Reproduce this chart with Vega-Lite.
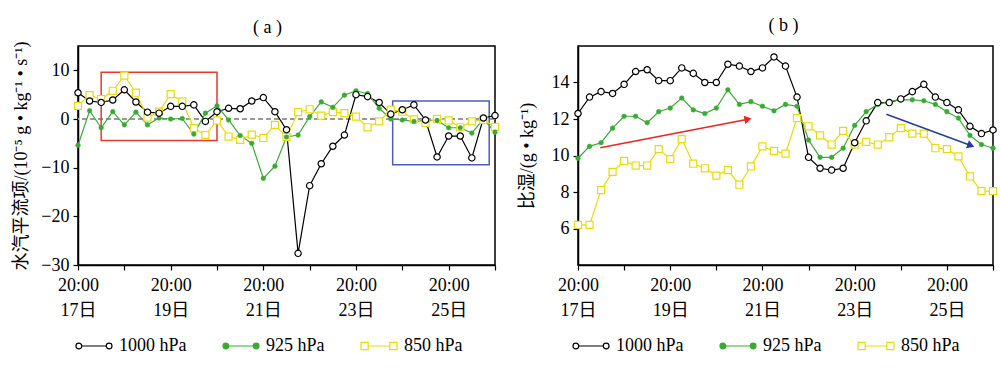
{
  "$schema": "https://vega.github.io/schema/vega-lite/v6.json",
  "padding": {"left": 12, "top": 16, "right": 5, "bottom": 5},
  "background": "white",
  "datasets": {
    "a": [
      {"t":0,"1000 hPa":5.4,"925 hPa":-5.4,"850 hPa":2.7},
      {"t":6,"1000 hPa":3.7,"925 hPa":1.7,"850 hPa":4.9},
      {"t":12,"1000 hPa":3.4,"925 hPa":-1.8,"850 hPa":4.1},
      {"t":18,"1000 hPa":3.9,"925 hPa":1.5,"850 hPa":5.8},
      {"t":24,"1000 hPa":6.0,"925 hPa":-1.2,"850 hPa":8.9},
      {"t":30,"1000 hPa":3.5,"925 hPa":1.4,"850 hPa":5.4},
      {"t":36,"1000 hPa":1.4,"925 hPa":-1.2,"850 hPa":0.3},
      {"t":42,"1000 hPa":1.2,"925 hPa":0.2,"850 hPa":1.5},
      {"t":48,"1000 hPa":2.6,"925 hPa":0.0,"850 hPa":5.1},
      {"t":54,"1000 hPa":2.6,"925 hPa":0.1,"850 hPa":3.6},
      {"t":60,"1000 hPa":2.9,"925 hPa":-3.1,"850 hPa":-1.9},
      {"t":66,"1000 hPa":-0.5,"925 hPa":1.2,"850 hPa":-3.3},
      {"t":72,"1000 hPa":1.5,"925 hPa":2.7,"850 hPa":-0.3},
      {"t":78,"1000 hPa":2.2,"925 hPa":-0.2,"850 hPa":-3.6},
      {"t":84,"1000 hPa":2.1,"925 hPa":-3.4,"850 hPa":-4.3},
      {"t":90,"1000 hPa":3.7,"925 hPa":-5.0,"850 hPa":-3.2},
      {"t":96,"1000 hPa":4.4,"925 hPa":-12.2,"850 hPa":-3.9},
      {"t":102,"1000 hPa":1.5,"925 hPa":-9.7,"850 hPa":-1.2},
      {"t":108,"1000 hPa":-2.2,"925 hPa":-3.7,"850 hPa":-3.7},
      {"t":114,"1000 hPa":-27.6,"925 hPa":-3.3,"850 hPa":1.4},
      {"t":120,"1000 hPa":-13.7,"925 hPa":0.5,"850 hPa":2.0},
      {"t":126,"1000 hPa":-9.2,"925 hPa":3.5,"850 hPa":0.7},
      {"t":132,"1000 hPa":-5.6,"925 hPa":2.4,"850 hPa":1.4},
      {"t":138,"1000 hPa":-3.3,"925 hPa":4.9,"850 hPa":1.2},
      {"t":144,"1000 hPa":5.0,"925 hPa":5.8,"850 hPa":0.5},
      {"t":150,"1000 hPa":4.6,"925 hPa":5.2,"850 hPa":-1.7},
      {"t":156,"1000 hPa":3.4,"925 hPa":2.2,"850 hPa":-0.5},
      {"t":162,"1000 hPa":1.0,"925 hPa":0.0,"850 hPa":1.9},
      {"t":168,"1000 hPa":1.9,"925 hPa":-0.2,"850 hPa":1.5},
      {"t":174,"1000 hPa":2.9,"925 hPa":-0.5,"850 hPa":-0.1},
      {"t":180,"1000 hPa":-0.2,"925 hPa":-0.3,"850 hPa":-0.8},
      {"t":186,"1000 hPa":-7.8,"925 hPa":-0.3,"850 hPa":0.0},
      {"t":192,"1000 hPa":-3.5,"925 hPa":-1.8,"850 hPa":-0.3},
      {"t":198,"1000 hPa":-3.5,"925 hPa":-1.8,"850 hPa":-1.7},
      {"t":204,"1000 hPa":-8.0,"925 hPa":-2.9,"850 hPa":-0.5},
      {"t":210,"1000 hPa":0.2,"925 hPa":0.0,"850 hPa":-0.2},
      {"t":216,"1000 hPa":0.7,"925 hPa":-2.7,"850 hPa":-1.6}
    ],
    "b": [
      {"t":0,"1000 hPa":12.3,"925 hPa":9.85,"850 hPa":6.2},
      {"t":6,"1000 hPa":13.2,"925 hPa":10.5,"850 hPa":6.2},
      {"t":12,"1000 hPa":13.5,"925 hPa":10.7,"850 hPa":8.1},
      {"t":18,"1000 hPa":13.4,"925 hPa":11.5,"850 hPa":9.1},
      {"t":24,"1000 hPa":13.9,"925 hPa":12.15,"850 hPa":9.7},
      {"t":30,"1000 hPa":14.6,"925 hPa":12.15,"850 hPa":9.45},
      {"t":36,"1000 hPa":14.7,"925 hPa":11.8,"850 hPa":9.45},
      {"t":42,"1000 hPa":14.1,"925 hPa":12.4,"850 hPa":10.35},
      {"t":48,"1000 hPa":14.1,"925 hPa":12.6,"850 hPa":9.8},
      {"t":54,"1000 hPa":14.8,"925 hPa":13.15,"850 hPa":10.9},
      {"t":60,"1000 hPa":14.5,"925 hPa":12.5,"850 hPa":9.55},
      {"t":66,"1000 hPa":14.0,"925 hPa":12.3,"850 hPa":9.3},
      {"t":72,"1000 hPa":14.0,"925 hPa":12.6,"850 hPa":8.9},
      {"t":78,"1000 hPa":15.0,"925 hPa":13.6,"850 hPa":9.2},
      {"t":84,"1000 hPa":14.9,"925 hPa":12.8,"850 hPa":8.4},
      {"t":90,"1000 hPa":14.6,"925 hPa":12.95,"850 hPa":9.4},
      {"t":96,"1000 hPa":14.8,"925 hPa":12.7,"850 hPa":10.5},
      {"t":102,"1000 hPa":15.4,"925 hPa":12.45,"850 hPa":10.25},
      {"t":108,"1000 hPa":14.9,"925 hPa":12.8,"850 hPa":10.1},
      {"t":114,"1000 hPa":13.2,"925 hPa":12.7,"850 hPa":12.05},
      {"t":120,"1000 hPa":9.9,"925 hPa":10.85,"850 hPa":11.6},
      {"t":126,"1000 hPa":9.3,"925 hPa":9.9,"850 hPa":11.1},
      {"t":132,"1000 hPa":9.2,"925 hPa":9.9,"850 hPa":10.6},
      {"t":138,"1000 hPa":9.3,"925 hPa":10.4,"850 hPa":11.35},
      {"t":144,"1000 hPa":10.7,"925 hPa":11.65,"850 hPa":10.6},
      {"t":150,"1000 hPa":11.9,"925 hPa":12.4,"850 hPa":10.75},
      {"t":156,"1000 hPa":12.9,"925 hPa":12.8,"850 hPa":10.6},
      {"t":162,"1000 hPa":12.9,"925 hPa":12.95,"850 hPa":11.0},
      {"t":168,"1000 hPa":13.1,"925 hPa":13.05,"850 hPa":11.5},
      {"t":174,"1000 hPa":13.5,"925 hPa":13.05,"850 hPa":11.2},
      {"t":180,"1000 hPa":13.9,"925 hPa":13.0,"850 hPa":11.2},
      {"t":186,"1000 hPa":13.2,"925 hPa":12.8,"850 hPa":10.4},
      {"t":192,"1000 hPa":12.9,"925 hPa":12.4,"850 hPa":10.35},
      {"t":198,"1000 hPa":12.5,"925 hPa":12.05,"850 hPa":9.95},
      {"t":204,"1000 hPa":11.6,"925 hPa":11.1,"850 hPa":8.85},
      {"t":210,"1000 hPa":11.2,"925 hPa":10.6,"850 hPa":8.05},
      {"t":216,"1000 hPa":11.4,"925 hPa":10.4,"850 hPa":8.05}
    ]
  },
  "config": {
    "font": "Liberation Serif",
    "view": {"stroke": "black", "strokeWidth": 1.5},
    "axis": {
      "grid": false,
      "domainColor": "black",
      "domainWidth": 1.5,
      "tickColor": "black",
      "tickWidth": 1.2,
      "tickSize": 5,
      "labelColor": "black",
      "labelFont": "Liberation Serif, Noto Sans CJK SC",
      "labelFontSize": 18,
      "titleFont": "Liberation Serif, Noto Sans CJK SC",
      "titleFontSize": 18,
      "titleFontWeight": "normal",
      "titleColor": "black",
      "labelOverlap": false,
      "labelFlush": false
    },
    "legend": {
      "labelFont": "Liberation Serif",
      "labelFontSize": 18,
      "labelColor": "black",
      "padding": 0
    },
    "title": {"font": "Liberation Serif", "fontSize": 18, "fontWeight": "normal", "color": "black"}
  },
  "spacing": 15,
  "resolve": {
    "scale": {"x": "independent", "y": "independent", "color": "independent"},
    "legend": {"color": "independent"}
  },
  "hconcat": [
    {
      "width": 417,
      "height": 219,
      "title": {"text": "( a )", "offset": 4, "dx": -19},
      "layer": [
        {
          "data": {"values": [{"v": 0}]},
          "mark": {"type": "rule", "color": "#999999", "strokeDash": [5, 3], "strokeWidth": 2},
          "encoding": {"y": {"field": "v", "type": "quantitative", "scale": {"domain": [-30, 15], "nice": false}}}
        },
        {
          "data": {"values": [{"t": 12, "t2": 72, "v": -4.4, "v2": 9.6}]},
          "mark": {"type": "rect", "fill": null, "fillOpacity": 0, "stroke": "#e8392a", "strokeWidth": 1.5},
          "encoding": {
            "x": {"field": "t", "type": "quantitative", "scale": {"domain": [0, 216], "nice": false}},
            "x2": {"field": "t2"},
            "y": {"field": "v", "type": "quantitative", "scale": {"domain": [-30, 15], "nice": false}},
            "y2": {"field": "v2"}
          }
        },
        {
          "data": {"values": [{"t": 163, "t2": 213, "v": -9.4, "v2": 3.7}]},
          "mark": {"type": "rect", "fill": null, "fillOpacity": 0, "stroke": "#4f5bbf", "strokeWidth": 1.5},
          "encoding": {
            "x": {"field": "t", "type": "quantitative", "scale": {"domain": [0, 216], "nice": false}},
            "x2": {"field": "t2"},
            "y": {"field": "v", "type": "quantitative", "scale": {"domain": [-30, 15], "nice": false}},
            "y2": {"field": "v2"}
          }
        },
        {
          "data": {"name": "a"},
          "transform": [{"fold": ["1000 hPa", "925 hPa", "850 hPa"], "as": ["p", "v"]}],
          "mark": {"type": "line", "strokeWidth": 1.2},
          "encoding": {
            "x": {
              "field": "t", "type": "quantitative",
              "scale": {"domain": [0, 216], "nice": false},
              "axis": {
                "title": null,
                "values": [0, 24, 48, 72, 96, 120, 144, 168, 192, 216],
                "labelExpr": "datum.value % 48 == 0 ? ['20:00', (17 + datum.value / 24) + '日'] : ''",
                "labelLineHeight": 25,
                "labelPadding": 6,
                "labelBaseline": "top"
              }
            },
            "y": {
              "field": "v", "type": "quantitative",
              "scale": {"domain": [-30, 15], "nice": false},
              "axis": {
                "title": "水汽平流项/(10⁻⁵ g • kg⁻¹ • s⁻¹)",
                "values": [-30, -25, -20, -15, -10, -5, 0, 5, 10],
                "labelExpr": "datum.value % 10 == 0 ? datum.label : ''",
                "titlePadding": 10,
                "labelPadding": 4
              }
            },
            "color": {
              "field": "p", "type": "nominal",
              "scale": {"domain": ["1000 hPa", "925 hPa", "850 hPa"], "range": ["#000000", "#3aaa35", "#e8db0a"]},
              "legend": {
                "title": null,
                "orient": "none",
                "legendX": -3,
                "legendY": 281,
                "direction": "horizontal",
                "symbolSize": 1296,
                "symbolStrokeWidth": 1.2,
                "labelOffset": 6,
                "columnPadding": 33,
                "encode": {
                  "symbols": {
                    "update": {
                      "shape": {"signal": "datum.value === '850 hPa' ? 'M-1,-0.2H-0.6V0.2H-1Z M0.6,-0.2H1V0.2H0.6Z M-0.6,0H0.6' : 'M-1,0A0.16,0.16,0,1,1,-0.68,0A0.16,0.16,0,1,1,-1,0Z M0.68,0A0.16,0.16,0,1,1,1,0A0.16,0.16,0,1,1,0.68,0Z M-0.68,0H0.68'"},
                      "fill": {"signal": "datum.value === '925 hPa' ? '#3aaa35' : '#ffffff'"},
                      "stroke": {"signal": "datum.value === '1000 hPa' ? '#000000' : datum.value === '925 hPa' ? '#3aaa35' : '#e8db0a'"},
                      "opacity": {"value": 1},
                      "fillOpacity": {"value": 1}
                    }
                  }
                }
              }
            }
          }
        },
        {
          "data": {"name": "a"},
          "mark": {"type": "point", "shape": "square", "filled": true, "fill": "white", "stroke": "#e8db0a", "strokeWidth": 1.2, "size": 50, "opacity": 1},
          "encoding": {
            "x": {"field": "t", "type": "quantitative", "scale": {"domain": [0, 216], "nice": false}},
            "y": {"field": "850 hPa", "type": "quantitative", "scale": {"domain": [-30, 15], "nice": false}}
          }
        },
        {
          "data": {"name": "a"},
          "mark": {"type": "point", "shape": "circle", "filled": true, "fill": "#3aaa35", "stroke": "#3aaa35", "strokeWidth": 0.5, "size": 22, "opacity": 1},
          "encoding": {
            "x": {"field": "t", "type": "quantitative", "scale": {"domain": [0, 216], "nice": false}},
            "y": {"field": "925 hPa", "type": "quantitative", "scale": {"domain": [-30, 15], "nice": false}}
          }
        },
        {
          "data": {"name": "a"},
          "mark": {"type": "point", "shape": "circle", "filled": true, "fill": "white", "stroke": "#000000", "strokeWidth": 1.2, "size": 40, "opacity": 1},
          "encoding": {
            "x": {"field": "t", "type": "quantitative", "scale": {"domain": [0, 216], "nice": false}},
            "y": {"field": "1000 hPa", "type": "quantitative", "scale": {"domain": [-30, 15], "nice": false}}
          }
        }
      ]
    },
    {
      "width": 415,
      "height": 219,
      "title": {"text": "( b )", "offset": 11, "dx": -2},
      "layer": [
        {
          "data": {"name": "b"},
          "transform": [{"fold": ["1000 hPa", "925 hPa", "850 hPa"], "as": ["p", "v"]}],
          "mark": {"type": "line", "strokeWidth": 1.2},
          "encoding": {
            "x": {
              "field": "t", "type": "quantitative",
              "scale": {"domain": [0, 216], "nice": false},
              "axis": {
                "title": null,
                "values": [0, 24, 48, 72, 96, 120, 144, 168, 192, 216],
                "labelExpr": "datum.value % 48 == 0 ? ['20:00', (17 + datum.value / 24) + '日'] : ''",
                "labelLineHeight": 25,
                "labelPadding": 6,
                "labelBaseline": "top"
              }
            },
            "y": {
              "field": "v", "type": "quantitative",
              "scale": {"domain": [4, 16], "nice": false},
              "axis": {
                "title": "比湿/(g • kg⁻¹)",
                "values": [6, 8, 10, 12, 14],
                "titlePadding": 15,
                "labelPadding": 4
              }
            },
            "color": {
              "field": "p", "type": "nominal",
              "scale": {"domain": ["1000 hPa", "925 hPa", "850 hPa"], "range": ["#000000", "#3aaa35", "#e8db0a"]},
              "legend": {
                "title": null,
                "orient": "none",
                "legendX": -6,
                "legendY": 281,
                "direction": "horizontal",
                "symbolSize": 1296,
                "symbolStrokeWidth": 1.2,
                "labelOffset": 6,
                "columnPadding": 33,
                "encode": {
                  "symbols": {
                    "update": {
                      "shape": {"signal": "datum.value === '850 hPa' ? 'M-1,-0.2H-0.6V0.2H-1Z M0.6,-0.2H1V0.2H0.6Z M-0.6,0H0.6' : 'M-1,0A0.16,0.16,0,1,1,-0.68,0A0.16,0.16,0,1,1,-1,0Z M0.68,0A0.16,0.16,0,1,1,1,0A0.16,0.16,0,1,1,0.68,0Z M-0.68,0H0.68'"},
                      "fill": {"signal": "datum.value === '925 hPa' ? '#3aaa35' : '#ffffff'"},
                      "stroke": {"signal": "datum.value === '1000 hPa' ? '#000000' : datum.value === '925 hPa' ? '#3aaa35' : '#e8db0a'"},
                      "opacity": {"value": 1},
                      "fillOpacity": {"value": 1}
                    }
                  }
                }
              }
            }
          }
        },
        {
          "data": {"name": "b"},
          "mark": {"type": "point", "shape": "square", "filled": true, "fill": "white", "stroke": "#e8db0a", "strokeWidth": 1.2, "size": 50, "opacity": 1},
          "encoding": {
            "x": {"field": "t", "type": "quantitative", "scale": {"domain": [0, 216], "nice": false}},
            "y": {"field": "850 hPa", "type": "quantitative", "scale": {"domain": [4, 16], "nice": false}}
          }
        },
        {
          "data": {"name": "b"},
          "mark": {"type": "point", "shape": "circle", "filled": true, "fill": "#3aaa35", "stroke": "#3aaa35", "strokeWidth": 0.5, "size": 22, "opacity": 1},
          "encoding": {
            "x": {"field": "t", "type": "quantitative", "scale": {"domain": [0, 216], "nice": false}},
            "y": {"field": "925 hPa", "type": "quantitative", "scale": {"domain": [4, 16], "nice": false}}
          }
        },
        {
          "data": {"name": "b"},
          "mark": {"type": "point", "shape": "circle", "filled": true, "fill": "white", "stroke": "#000000", "strokeWidth": 1.2, "size": 40, "opacity": 1},
          "encoding": {
            "x": {"field": "t", "type": "quantitative", "scale": {"domain": [0, 216], "nice": false}},
            "y": {"field": "1000 hPa", "type": "quantitative", "scale": {"domain": [4, 16], "nice": false}}
          }
        },
        {
          "data": {"values": [{"t": 11.6, "v": 10.43, "t2": 88.5, "v2": 11.99}]},
          "mark": {"type": "rule", "color": "#e8261e", "strokeWidth": 1.5},
          "encoding": {
            "x": {"field": "t", "type": "quantitative", "scale": {"domain": [0, 216], "nice": false}},
            "y": {"field": "v", "type": "quantitative", "scale": {"domain": [4, 16], "nice": false}},
            "x2": {"field": "t2"},
            "y2": {"field": "v2"}
          }
        },
        {
          "data": {"values": [{"t": 88.5, "v": 11.99}]},
          "mark": {"type": "point", "shape": "triangle-right", "filled": true, "color": "#e8261e", "size": 70, "angle": 349, "opacity": 1},
          "encoding": {
            "x": {"field": "t", "type": "quantitative", "scale": {"domain": [0, 216], "nice": false}},
            "y": {"field": "v", "type": "quantitative", "scale": {"domain": [4, 16], "nice": false}}
          }
        },
        {
          "data": {"values": [{"t": 160.5, "v": 12.26, "t2": 204.5, "v2": 10.55}]},
          "mark": {"type": "rule", "color": "#2a3a9c", "strokeWidth": 1.5},
          "encoding": {
            "x": {"field": "t", "type": "quantitative", "scale": {"domain": [0, 216], "nice": false}},
            "y": {"field": "v", "type": "quantitative", "scale": {"domain": [4, 16], "nice": false}},
            "x2": {"field": "t2"},
            "y2": {"field": "v2"}
          }
        },
        {
          "data": {"values": [{"t": 204.5, "v": 10.55}]},
          "mark": {"type": "point", "shape": "triangle-right", "filled": true, "color": "#2a3a9c", "size": 70, "angle": 20, "opacity": 1},
          "encoding": {
            "x": {"field": "t", "type": "quantitative", "scale": {"domain": [0, 216], "nice": false}},
            "y": {"field": "v", "type": "quantitative", "scale": {"domain": [4, 16], "nice": false}}
          }
        }
      ]
    }
  ]
}
